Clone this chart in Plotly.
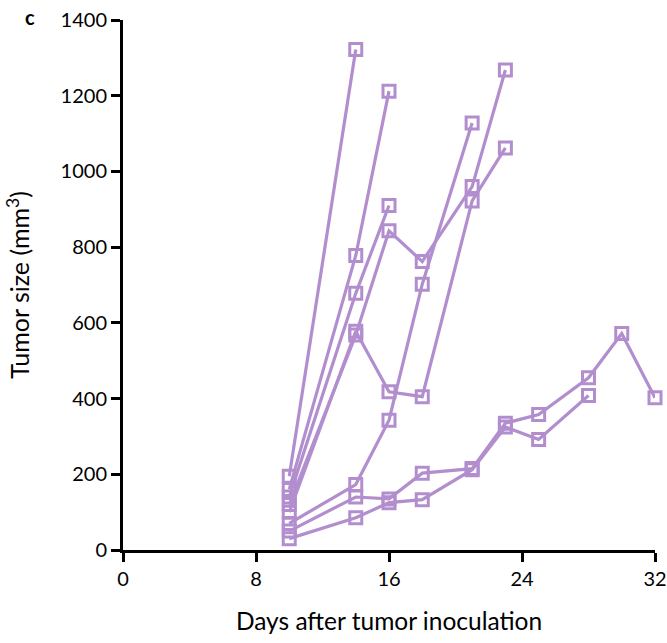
import plotly.graph_objects as go

# Data: days and tumor sizes for each mouse
m1_days = [10, 14]
m1_size = [195, 1322]
m2_days = [10, 14, 16]
m2_size = [160, 778, 1212]
m3_days = [10, 14, 16]
m3_size = [140, 678, 910]
m4_days = [10, 14, 16, 18, 21, 23]
m4_size = [120, 568, 843, 762, 960, 1268]
m5_days = [10, 14, 16, 18, 21, 23]
m5_size = [100, 578, 418, 405, 922, 1062]
m6_days = [10, 14, 16, 18, 21]
m6_size = [70, 173, 343, 702, 1128]
m7_days = [10, 14, 16, 18, 21, 23, 25, 28, 30, 32]
m7_size = [50, 140, 135, 203, 215, 335, 358, 455, 572, 402]
m8_days = [10, 14, 16, 18, 21, 23, 25, 28]
m8_size = [30, 85, 125, 133, 212, 325, 292, 408]

series = [
    (m1_days, m1_size), (m2_days, m2_size), (m3_days, m3_size), (m4_days, m4_size),
    (m5_days, m5_size), (m6_days, m6_size), (m7_days, m7_size), (m8_days, m8_size),
]

x_ticks = [0, 8, 16, 24, 32]
y_ticks = [0, 200, 400, 600, 800, 1000, 1200, 1400]

color = "rgb(178,142,206)"
font_family = "Lato, 'Open Sans', sans-serif"

fig = go.Figure()
for d, s in series:
    fig.add_trace(go.Scatter(
        x=d, y=s, mode="lines+markers",
        line=dict(color=color, width=3.2),
        marker=dict(symbol="square-open", size=12, color=color, line=dict(color=color, width=3)),
        cliponaxis=False, showlegend=False,
    ))

axis_common = dict(
    showgrid=False, zeroline=False, showline=True, linecolor="black", linewidth=3,
    ticks="outside", ticklen=9, tickwidth=3, tickcolor="black", automargin=False,
    tickfont=dict(family=font_family, size=20, color="black"),
)

fig.update_xaxes(range=[0, 32], tickvals=x_ticks,
                 title=dict(text="Days after tumor inoculation", font=dict(family=font_family, size=24.5, color="black"), standoff=24),
                 **axis_common)
fig.update_yaxes(range=[0, 1400], tickvals=y_ticks,
                 title=dict(text="Tumor size (mm<sup>3</sup>)", font=dict(family=font_family, size=25, color="black"), standoff=24),
                 **axis_common)

fig.add_annotation(text="<b>c</b>", xref="paper", yref="paper", x=-0.175, y=1.005,
                   xanchor="center", yanchor="middle", showarrow=False,
                   font=dict(family=font_family, size=20, color="black"))

fig.update_layout(
    width=667, height=643,
    margin=dict(l=123, r=12, t=20, b=93),
    plot_bgcolor="white", paper_bgcolor="white",
)

fig.write_html("out.html")
